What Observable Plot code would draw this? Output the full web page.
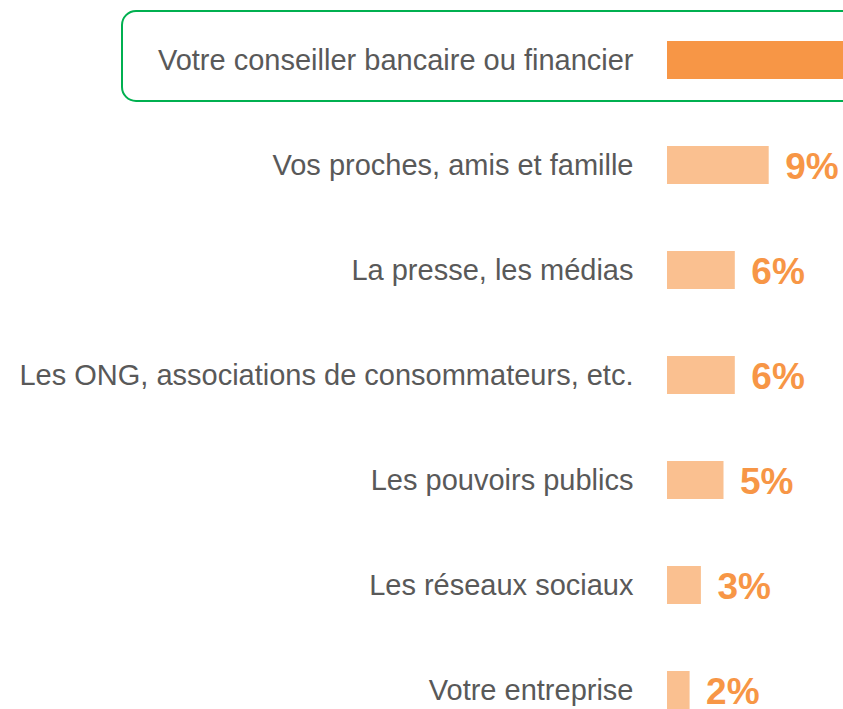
<!DOCTYPE html>
<html>
<head>
<meta charset="utf-8">
<script src="https://cdn.jsdelivr.net/npm/d3@7"></script>
<script src="https://cdn.jsdelivr.net/npm/@observablehq/plot@0.6"></script>
<style>
  html, body { margin: 0; padding: 0; background: #fff; overflow: hidden; }
  #chart svg { overflow: hidden; font-family: "Liberation Sans", Arial, sans-serif; }
</style>
</head>
<body>
<div id="chart"></div>
<script>
const categories = [
  "Votre conseiller bancaire ou financier",
  "Vos proches, amis et famille",
  "La presse, les médias",
  "Les ONG, associations de consommateurs, etc.",
  "Les pouvoirs publics",
  "Les réseaux sociaux",
  "Votre entreprise"
];
const values = [45, 9, 6, 6, 5, 3, 2];
const valueLabels = ["45%", "9%", "6%", "6%", "5%", "3%", "2%"];
const highlighted = ["Votre conseiller bancaire ou financier"];

const data = categories.map((c, i) => ({category: c, value: values[i], label: valueLabels[i], hi: highlighted.includes(c)}));

const chart = Plot.plot({
  width: 843,
  height: 709,
  marginTop: 0, marginBottom: 0, marginLeft: 0, marginRight: 0,
  style: {fontFamily: "'Liberation Sans', Arial, sans-serif", background: "#fff", overflow: "hidden"},
  x: {domain: [0, 100], range: [667, 667 + 1130], axis: null},
  y: {domain: categories, range: [39, 711.5], paddingInner: 0.64, paddingOuter: 0, axis: null},
  marks: [
    Plot.barX(data.filter(d => d.hi), {
      x1: 0, x2: 100, y: "category",
      insetLeft: -545, insetTop: -30, insetBottom: -22,
      rx: 14, fill: "none", stroke: "#00B050", strokeWidth: 2
    }),
    Plot.barX(data, {
      x: "value", y: "category",
      fill: d => d.hi ? "#F79646" : "#FAC090"
    }),
    Plot.text(data, {
      x: 0, y: "category", text: "category",
      textAnchor: "end", dx: -34, fontSize: 29, fill: "#595959"
    }),
    // the highlighted bar's value label lies beyond the visible area in the reference
    Plot.text(data.filter(d => !d.hi), {
      x: "value", y: "category", text: "label",
      textAnchor: "start", dx: 16, dy: 2, fontSize: 37, fontWeight: "bold", fill: "#F79646"
    })
  ]
});
document.getElementById("chart").appendChild(chart);
</script>
</body>
</html>
